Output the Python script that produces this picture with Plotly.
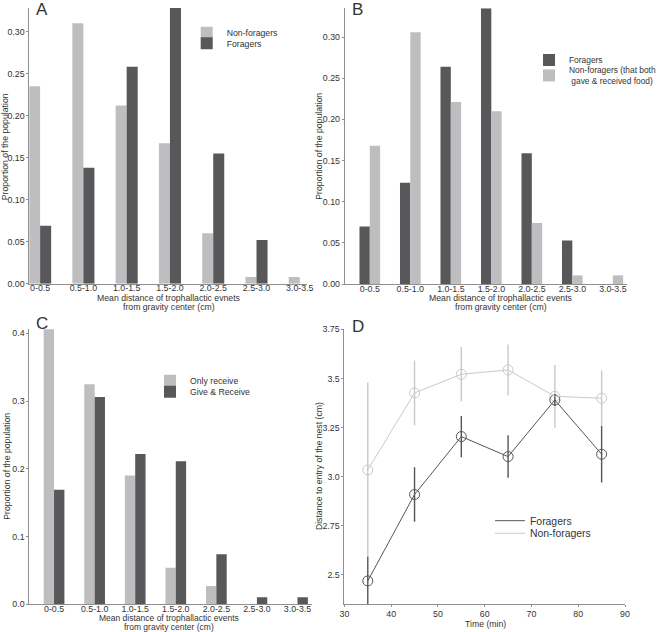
import plotly.graph_objects as go

W, H = 660, 632

# ---------------- data ----------------
categories = ["0-0.5", "0.5-1.0", "1.0-1.5", "1.5-2.0", "2.0-2.5", "2.5-3.0", "3.0-3.5"]

a_nonforagers = [0.235, 0.310, 0.212, 0.167, 0.060, 0.008, 0.008]
a_foragers = [0.069, 0.138, 0.258, 0.328, 0.155, 0.052, 0.0]

b_foragers = [0.070, 0.123, 0.264, 0.335, 0.159, 0.053, 0.0]
b_nonforagers = [0.168, 0.306, 0.221, 0.210, 0.074, 0.0105, 0.0105]

c_only_receive = [0.406, 0.325, 0.190, 0.054, 0.027, 0.0, 0.0]
c_give_receive = [0.169, 0.306, 0.222, 0.211, 0.074, 0.0105, 0.0105]

time_min = [35, 45, 55, 65, 75, 85]
d_foragers = [2.469, 2.909, 3.204, 3.102, 3.390, 3.114]
d_foragers_err = [0.123, 0.139, 0.105, 0.108, 0.03, 0.144]
d_nonforagers = [3.034, 3.426, 3.521, 3.543, 3.409, 3.399]
d_nonforagers_err = [0.445, 0.165, 0.139, 0.130, 0.160, 0.143]

d_ytick_vals = [2.5, 2.75, 3.0, 3.25, 3.5, 3.75]
d_ytick_text = ["2.5", "2.75", "3.0", "3.25", "3.5", "3.75"]
d_xtick_vals = [30, 40, 50, 60, 70, 80, 90]

# ---------------- style ----------------
DARK = "#58585a"
LIGHT = "#bebec0"
LINE_DARK = "#555555"
LINE_LIGHT = "#c9c9c9"
AXIS = "#8f8f8f"
TXT = "#333333"
FONT = "Liberation Sans, Arial, sans-serif"


def fx(x):
    return x / W


def fy(y):
    return 1 - y / H


fig = go.Figure()

# Panel A
fig.add_trace(go.Bar(x=categories, y=a_nonforagers, name="Non-foragers", marker_color=LIGHT,
                     marker_line_width=0, xaxis="x", yaxis="y", legend="legend", offsetgroup="a1"))
fig.add_trace(go.Bar(x=categories, y=a_foragers, name="Foragers", marker_color=DARK,
                     marker_line_width=0, xaxis="x", yaxis="y", legend="legend2", offsetgroup="a2"))
# Panel B
fig.add_trace(go.Bar(x=categories, y=b_foragers, name="Foragers", marker_color=DARK,
                     marker_line_width=0, xaxis="x2", yaxis="y2", legend="legend3", offsetgroup="b1"))
fig.add_trace(go.Bar(x=categories, y=b_nonforagers,
                     name="Non-foragers (that both<br>\u00a0gave & received food)", marker_color=LIGHT,
                     marker_line_width=0, xaxis="x2", yaxis="y2", legend="legend4", offsetgroup="b2"))
# Panel C
fig.add_trace(go.Bar(x=categories, y=c_only_receive, name="Only receive", marker_color=LIGHT,
                     marker_line_width=0, xaxis="x3", yaxis="y3", legend="legend5", offsetgroup="c1"))
fig.add_trace(go.Bar(x=categories, y=c_give_receive, name="Give & Receive", marker_color=DARK,
                     marker_line_width=0, xaxis="x3", yaxis="y3", legend="legend6", offsetgroup="c2"))

# Panel D: error bars + markers (no legend), lines with legend
fig.add_trace(go.Scatter(x=time_min, y=d_nonforagers, mode="markers", showlegend=False,
                         marker=dict(symbol="circle-open", size=10, color=LINE_LIGHT, line=dict(width=1)),
                         error_y=dict(type="data", array=d_nonforagers_err, color=LINE_LIGHT,
                                      thickness=1.4, width=0),
                         xaxis="x4", yaxis="y4"))
fig.add_trace(go.Scatter(x=time_min, y=d_foragers, mode="markers", showlegend=False,
                         marker=dict(symbol="circle-open", size=10, color=LINE_DARK, line=dict(width=1)),
                         error_y=dict(type="data", array=d_foragers_err, color=LINE_DARK,
                                      thickness=1.4, width=0),
                         xaxis="x4", yaxis="y4"))
fig.add_trace(go.Scatter(x=time_min, y=d_nonforagers, mode="lines", name="Non-foragers",
                         line=dict(color=LINE_LIGHT, width=1), xaxis="x4", yaxis="y4", legend="legend8"))
fig.add_trace(go.Scatter(x=time_min, y=d_foragers, mode="lines", name="Foragers",
                         line=dict(color=LINE_DARK, width=1), xaxis="x4", yaxis="y4", legend="legend7"))

tickfont = dict(family=FONT, size=8.8, color=TXT)

common_x_bar = dict(type="category", showline=True, linecolor=AXIS, linewidth=1, ticks="",
                    showgrid=False, zeroline=False, tickfont=tickfont, automargin=False,
                    ticklabelstandoff=-4)
common_y = dict(showline=True, linecolor=AXIS, linewidth=1, ticks="outside", ticklen=2,
                tickcolor=AXIS, showgrid=False, zeroline=False, tickfont=tickfont, automargin=False)

layout = dict(
    width=W, height=H,
    margin=dict(l=0, r=0, t=0, b=0, autoexpand=False),
    paper_bgcolor="white", plot_bgcolor="white",
    barmode="group", bargap=0.49, bargroupgap=0,
    font=dict(family=FONT, size=9, color=TXT),
    xaxis=dict(common_x_bar, domain=[fx(29.3), fx(306.7)], range=[-0.25, 6.16], anchor="y"),
    yaxis=dict(common_y, domain=[fy(283.7), fy(8)], range=[0, 0.328], anchor="x",
               tickvals=[0, 0.05, 0.10, 0.15, 0.20, 0.25, 0.30], tickformat=".2f"),
    xaxis2=dict(common_x_bar, domain=[fx(344.7), fx(627)], range=[-0.62, 6.35], anchor="y2"),
    yaxis2=dict(common_y, domain=[fy(284), fy(8.3)], range=[0, 0.335], anchor="x2",
                tickvals=[0, 0.05, 0.10, 0.15, 0.20, 0.25, 0.30], tickformat=".2f"),
    xaxis3=dict(common_x_bar, domain=[fx(29.3), fx(311.7)], range=[-0.61, 6.35], anchor="y3"),
    yaxis3=dict(common_y, domain=[fy(604.3), fy(328.6)], range=[0, 0.407], anchor="x3",
                tickvals=[0, 0.1, 0.2, 0.3, 0.4], tickformat=".1f"),
    xaxis4=dict(showline=True, linecolor=AXIS, linewidth=1, ticks="outside", ticklen=2, tickcolor=AXIS,
                showgrid=False, zeroline=False, tickfont=tickfont, domain=[fx(344.4), fx(625)],
                range=[30, 90], tickvals=d_xtick_vals, anchor="y4", automargin=False,
                ticklabelstandoff=-1),
    yaxis4=dict(common_y, domain=[fy(604.3), fy(329.3)], range=[2.35, 3.75], anchor="x4",
                tickvals=d_ytick_vals, ticktext=d_ytick_text),
)


def leg(text_left, ycenter, size=8.7):
    return dict(x=fx(text_left - 40), y=fy(ycenter), xanchor="left", yanchor="middle",
                bgcolor="rgba(0,0,0,0)", borderwidth=0,
                font=dict(family=FONT, size=size, color=TXT))


layout["legend"] = leg(226.7, 32.7)
layout["legend2"] = leg(226.7, 43.3)
layout["legend3"] = leg(569, 60, 8.4)
layout["legend4"] = leg(569, 75.5, 8.4)
layout["legend5"] = leg(190, 380.7)
layout["legend6"] = leg(190, 391.7)
layout["legend7"] = leg(530, 520.7, 10.4)
layout["legend8"] = leg(530, 533.3, 10.4)

fig.update_layout(**layout)

ann = []


def text(x, y, s, size=8.7, angle=0, xanchor="center", yanchor="middle"):
    ann.append(dict(x=fx(x), y=fy(y), xref="paper", yref="paper", text=s, showarrow=False,
                    textangle=angle, xanchor=xanchor, yanchor=yanchor,
                    font=dict(family=FONT, size=size, color=TXT)))


# panel letters
text(34, -2, "A", size=17, xanchor="left", yanchor="top")
text(349.5, -2, "B", size=17, xanchor="left", yanchor="top")
text(34, 312, "C", size=17, xanchor="left", yanchor="top")
text(349.5, 314.5, "D", size=17, xanchor="left", yanchor="top")

# x-axis titles
text(168.8, 298.3, "Mean distance of trophallactic evnets")
text(168.8, 307, "from gravity center (cm)")
text(501, 298.3, "Mean distance of trophallactic events")
text(501, 307, "from gravity center (cm)")
text(168.8, 618.0, "Mean distance of trophallactic events", size=8.5)
text(168.8, 626.7, "from gravity center (cm)", size=8.5)
text(485.7, 624, "Time (min)")

# y-axis titles
text(4.5, 146.7, "Proportion of the population", angle=-90)
text(319, 146.7, "Proportion of the population", angle=-90)
text(7, 466.7, "Proportion of the population", angle=-90)
text(318.3, 465.8, "Distance to entry of the nest (cm)", angle=-90)

fig.update_layout(annotations=ann)

# the page's default body margin would shift the figure by 8 px
fig.write_html("out.html", config={"displayModeBar": False},
               post_script="document.body.style.margin='0';document.body.style.overflow='hidden';")
